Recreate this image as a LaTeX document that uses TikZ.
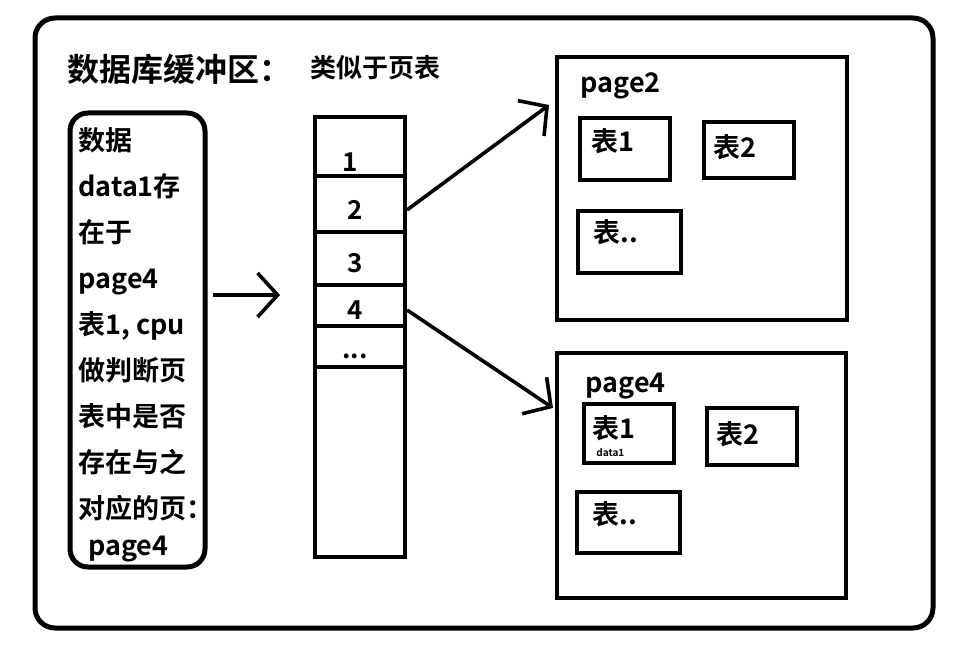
\documentclass[tikz,border=0pt]{standalone}
\usepackage{fontspec}
\setmainfont{Noto Sans CJK SC}[BoldFont=* Bold]
\usetikzlibrary{arrows.meta,fit}

\begin{document}
\begin{tikzpicture}[x=0.5pt,y=-0.5pt,
  box/.style={draw,line width=2pt,inner sep=0pt},
  rbox/.style={box,line width=2.5pt},
  arr/.style={line width=1.8pt,-{Straight Barb[length=10pt,width=22pt]}},
  lbl/.style={font=\bfseries\fontsize{13.5}{16}\selectfont,anchor=west,inner sep=0pt},
  num/.style={font=\bfseries\fontsize{13}{15}\selectfont,inner sep=0pt}]
\useasboundingbox (0,0) rectangle (970,647);
% outer frame and headings
\node[rbox,rounded corners=10pt,fit={(35,18) (933,628)}] (outer) {};
\node[lbl,font=\bfseries\fontsize{16}{18}\selectfont] (title) at (67,69) {数据库缓冲区：};
\node[lbl,font=\bfseries\fontsize{13}{16}\selectfont] (sub) at (310,68) {类似于页表};
% buffer note
\node[rbox,rounded corners=9pt,fit={(70,113) (205,567)}] (buf) {};
\node[lbl,anchor=north west,align=left,font=\bfseries\fontsize{13.5}{23}\selectfont] (note) at (78,127)
  {数据\\data1存\\在于\\page4\\表1, cpu\\做判断页\\表中是否\\存在与之\\对应的页：\\[-4.5pt]\hspace{5pt}page4};
\coordinate (m1) at (213,295);
\coordinate (m2) at (280,295);
\draw[arr] (m1) -- (m2);
% page table
\node[box,fit={(315,117) (405,557)}] (tbl) {};
\foreach \y in {176,232,285,326,367}
  \draw[line width=2pt] (tbl.west |- 0,\y) -- (tbl.east |- 0,\y);
\foreach \t/\x/\y [count=\i] in {1/350/162,2/355/210,3/355/263,4/355/310,{...}/355/356}
  \node[num] (r\i) at (\x,\y) {\t};
% page2
\node[box,fit={(557,57) (847,320)}] (pg2) {};
\node[lbl,anchor=base west] (pg2t) at (580,93) {page2};
\node[box,fit={(580,118) (670,180)}] (pg2a) {};
\node[lbl] (pg2at) at (591,141) {表1};
\node[box,fit={(704,122) (794,178)}] (pg2b) {};
\node[lbl] (pg2bt) at (713,147) {表2};
\node[box,fit={(578,211) (681,273)}] (pg2c) {};
\node[lbl] (pg2ct) at (593,232) {表..};
% page4
\node[box,fit={(557,353) (846,598)}] (pg4) {};
\node[lbl,anchor=base west] (pg4t) at (585,392) {page4};
\node[box,fit={(584,404) (674,463)}] (pg4a) {};
\node[lbl] (pg4at) at (592,428) {表1};
\node[lbl,font=\bfseries\fontsize{5}{6}\selectfont] (d1) at (596,453) {data1};
\node[box,fit={(707,408) (797,465)}] (pg4b) {};
\node[lbl] (pg4bt) at (716,434) {表2};
\node[box,fit={(577,492) (680,553)}] (pg4c) {};
\node[lbl] (pg4ct) at (592,514) {表..};
% links
\coordinate (p2in) at (549,105);
\coordinate (p4in) at (553,408);
\draw[arr] (tbl.east |- r2) -- (p2in);
\draw[arr] (tbl.east |- r4) -- (p4in);
\end{tikzpicture}
\end{document}
